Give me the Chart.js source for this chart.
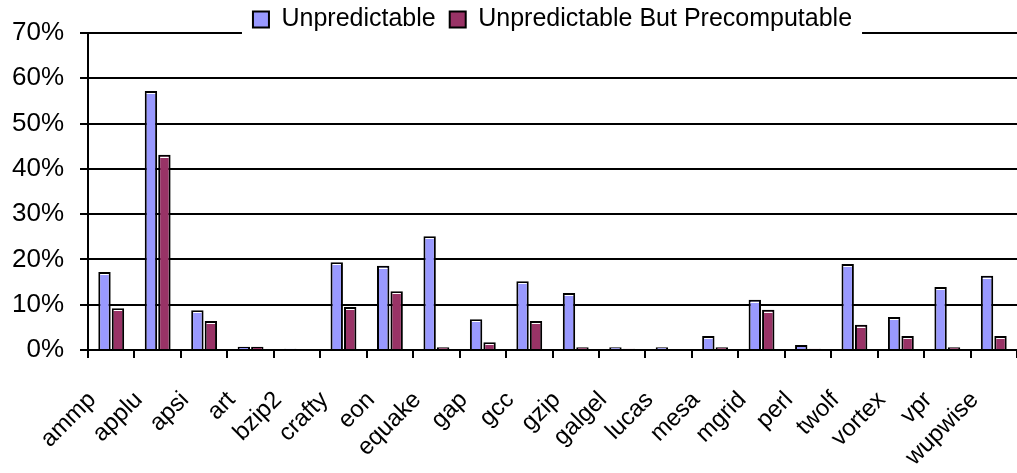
<!DOCTYPE html>
<html>
<head>
<meta charset="utf-8">
<script src="https://cdn.jsdelivr.net/npm/chart.js@4"></script>
<style>
    html, body { margin: 0; padding: 0; background: #fff; }
    #wrap { width: 1017px; height: 473px; position: relative; }
</style>
</head>
<body>
<div id="wrap"><canvas id="benchChart"></canvas></div>
<script>
const benchmarks = ["ammp", "applu", "apsi", "art", "bzip2", "crafty", "eon", "equake", "gap", "gcc",
    "gzip", "galgel", "lucas", "mesa", "mgrid", "perl", "twolf", "vortex", "vpr", "wupwise"];
const unpredictable = [17.2, 57.2, 8.8, 0.7, 0.3, 19.4, 18.6, 25.1, 6.8, 15.2,
    12.6, 0.6, 0.6, 3.1, 11.1, 1.1, 19.0, 7.3, 13.9, 16.4];
const precomputable = [9.2, 43.1, 6.4, 0.7, 0, 9.5, 13.0, 0.6, 1.7, 6.4,
    0.6, 0.3, 0, 0.6, 8.9, 0.3, 5.6, 3.1, 0.6, 3.1];
const yTicks = [0, 10, 20, 30, 40, 50, 60, 70];

Chart.defaults.font.family = "'Liberation Sans', Arial, sans-serif";
Chart.defaults.color = "#000";

// white highlight just under the top edge of each bar (excel style)
const barShine = {
    id: "barShine",
    afterDatasetsDraw(chart) {
        const ctx = chart.ctx;
        ctx.save();
        ctx.strokeStyle = "#fff";
        ctx.lineWidth = 1;
        chart.data.datasets.forEach((ds, i) => {
            chart.getDatasetMeta(i).data.forEach((bar) => {
                const h = bar.base - bar.y;
                if (h < 5) return;
                ctx.beginPath();
                ctx.moveTo(bar.x - bar.width / 2 + 2, Math.round(bar.y) + 2.5);
                ctx.lineTo(bar.x + bar.width / 2 - 2, Math.round(bar.y) + 2.5);
                ctx.stroke();
            });
        });
        ctx.restore();
    },
};

// legend sits on top of the 70% gridline, blank it out behind the legend items
const legendGap = {
    id: "legendGap",
    afterDraw(chart) {
        const boxes = chart.legend && chart.legend.legendHitBoxes;
        if (!boxes || !boxes.length) return;
        const first = boxes[0];
        const last = boxes[boxes.length - 1];
        const top = chart.chartArea.top;
        const ctx = chart.ctx;
        ctx.save();
        ctx.fillStyle = "#fff";
        ctx.fillRect(first.left - 11, top - 2, last.left + last.width + 21 - first.left, 4);
        ctx.restore();
    },
};

const chartConfig = {
    type: "bar",
    data: {
        labels: benchmarks,
        datasets: [
            {
                label: "Unpredictable",
                data: unpredictable,
                backgroundColor: "#9999FF",
                borderColor: "#000",
                borderWidth: 2,
            },
            {
                label: "Unpredictable But Precomputable",
                data: precomputable,
                backgroundColor: "#993366",
                borderColor: "#000",
                borderWidth: 2,
            },
        ],
    },
    options: {
        responsive: true,
        maintainAspectRatio: false,
        animation: false,
        categoryPercentage: 0.58,
        barPercentage: 0.92,
        layout: {
            padding: { left: 12, right: 0, top: -7, bottom: 6 },
        },
        scales: {
            x: {
                afterFit: (scale) => {
                    // no extra side room for the rotated labels, fixed band below the axis
                    scale.paddingLeft = 0;
                    scale.paddingRight = 0;
                    scale.height = 117;
                },
                grid: {
                    drawOnChartArea: false,
                    drawTicks: true,
                    tickLength: 8,
                    color: "#000",
                    lineWidth: 2,
                },
                border: { color: "#000", width: 2 },
                ticks: {
                    autoSkip: false,
                    minRotation: 45,
                    maxRotation: 45,
                    labelOffset: -19,
                    padding: 28,
                    font: { size: 24 },
                },
            },
            y: {
                min: 0,
                max: 70,
                afterBuildTicks: (scale) => {
                    scale.ticks = yTicks.map((v) => ({ value: v }));
                },
                afterFit: (scale) => {
                    scale.width = 76;
                },
                grid: {
                    color: "#000",
                    lineWidth: 2,
                    tickLength: 8,
                },
                border: { color: "#000", width: 2 },
                ticks: {
                    padding: 16,
                    font: { size: 26 },
                    callback: (value) => value + "%",
                },
            },
        },
        plugins: {
            legend: {
                position: "top",
                fullSize: false,
                maxHeight: 40,
                labels: {
                    boxWidth: 16,
                    boxHeight: 16,
                    padding: 14,
                    font: { size: 25 },
                },
            },
            tooltip: { enabled: false },
        },
    },
    plugins: [barShine, legendGap],
};

new Chart(document.getElementById("benchChart"), chartConfig);
</script>
</body>
</html>
